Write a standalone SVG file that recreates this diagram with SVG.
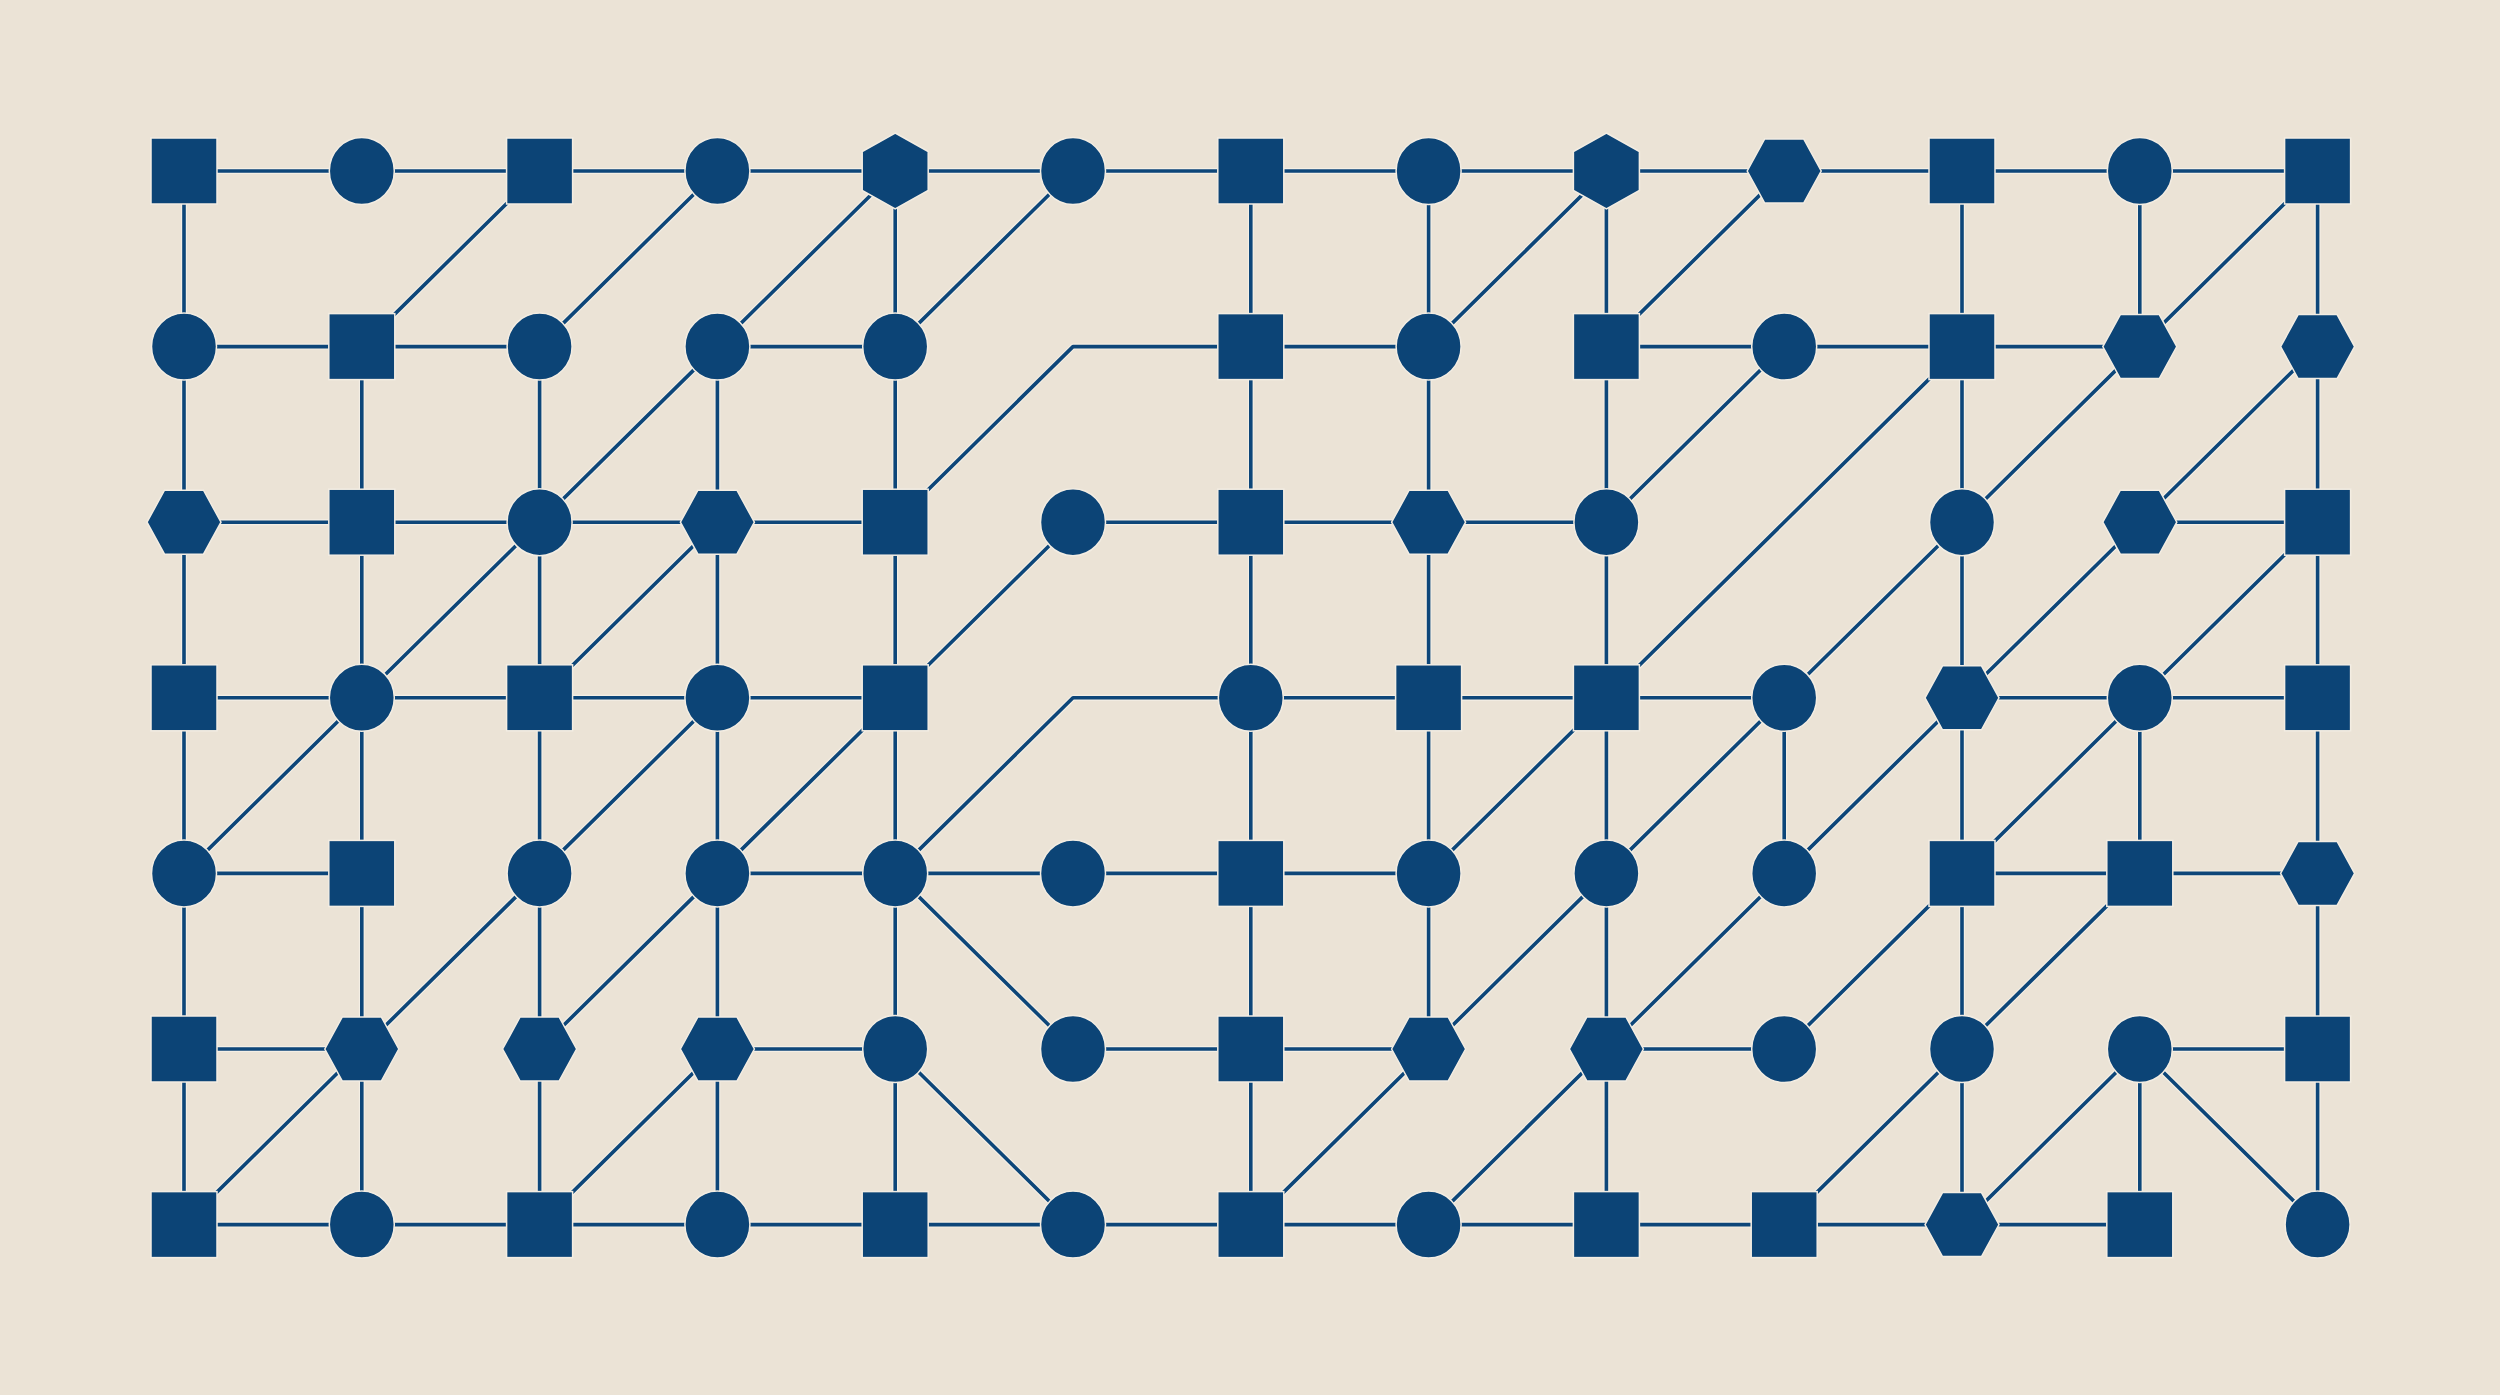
<svg xmlns="http://www.w3.org/2000/svg" width="2500" height="1395" viewBox="0 0 2500 1395">
<style>
.bg{fill:#ebe3d6}
.halo{fill:none;stroke:#f6f1e8;stroke-width:6;stroke-linejoin:round;opacity:0.8}
.ln{fill:none;stroke:#0d4679;stroke-width:3.6;stroke-linejoin:round}
.nd{fill:#0c4476;stroke:#f3ede3;stroke-width:1.5}
</style>
<defs>
<rect id="sq" x="-33" y="-33" width="66" height="66"/>
<ellipse id="ci" cx="0" cy="0" rx="32.5" ry="33.5"/>
<polygon id="hf" points="-37,0 -19.5,-32 19.5,-32 37,0 19.5,32 -19.5,32"/>
<polygon id="hp" points="0,-38 33,-19.5 33,19.5 0,38 -33,19.5 -33,-19.5"/>
<path id="edges" d="
M184 171 H2317.6
M184 346.6 H539.6 M717.4 346.6 H895.2 M1250.8 346.6 H1428.6 M1606.4 346.6 H2139.8
M184 522.2 H895.2 M1073 522.2 H1606.4 M2139.8 522.2 H2317.6
M184 697.8 H895.2 M1250.8 697.8 H1784.2 M1962 697.8 H2317.6
M184 873.4 H361.8 M717.4 873.4 H1428.6 M1962 873.4 H2317.6
M184 1049 H361.8 M717.4 1049 H895.2 M1073 1049 H1428.6 M1606.4 1049 H1784.2 M2139.8 1049 H2317.6
M184 1224.6 H2139.8
M184 171 V1224.6 M361.8 346.6 V1224.6 M539.6 346.6 V1224.6 M717.4 346.6 V1224.6 M895.2 171 V1224.6
M1250.8 171 V1224.6 M1428.6 171 V1049 M1606.4 171 V1224.6 M1784.2 697.8 V873.4 M1962 171 V1224.6
M2139.8 171 V346.6 M2139.8 697.8 V873.4 M2139.8 1049 V1224.6 M2317.6 171 V1224.6
M361.8 346.6 L539.6 171 M539.6 346.6 L717.4 171 M717.4 346.6 L895.2 171 M895.2 346.6 L1073 171
M1428.6 346.6 L1606.4 171 M1606.4 346.6 L1784.2 171 M2139.8 346.6 L2317.6 171
M539.6 522.2 L717.4 346.6 M1606.4 522.2 L1784.2 346.6 M1962 522.2 L2139.8 346.6 M2139.8 522.2 L2317.6 346.6
M361.8 697.8 L539.6 522.2 M539.6 697.8 L717.4 522.2 M895.2 697.8 L1073 522.2
M1784.2 697.8 L1962 522.2 M1962 697.8 L2139.8 522.2 M2139.8 697.8 L2317.6 522.2
M184 873.4 L361.8 697.8 M539.6 873.4 L717.4 697.8 M717.4 873.4 L895.2 697.8
M1428.6 873.4 L1606.4 697.8 M1606.4 873.4 L1784.2 697.8 M1784.2 873.4 L1962 697.8 M1962 873.4 L2139.8 697.8
M361.8 1049 L539.6 873.4 M539.6 1049 L717.4 873.4
M1428.6 1049 L1606.4 873.4 M1606.4 1049 L1784.2 873.4 M1784.2 1049 L1962 873.4 M1962 1049 L2139.8 873.4
M184 1224.6 L361.8 1049 M539.6 1224.6 L717.4 1049
M1250.8 1224.6 L1428.6 1049 M1428.6 1224.6 L1606.4 1049 M1784.2 1224.6 L1962 1049 M1962 1224.6 L2139.8 1049
M1606.4 697.8 L1962 346.6
M895.2 522.2 L1073 346.6 H1250.8
M895.2 873.4 L1073 697.8 H1250.8
M895.2 873.4 L1073 1049 M895.2 1049 L1073 1224.6 M2139.8 1049 L2317.6 1224.6"/>
</defs>
<rect class="bg" x="0" y="0" width="2500" height="1395"/>
<g id="connectors">
<use href="#edges" class="halo"/>
<use href="#edges" class="ln"/>
</g>
<g id="nodes" class="nd">
<g id="n0-0"><use href="#sq" x="184" y="171"/></g>
<g id="n0-1"><use href="#ci" x="361.8" y="171"/></g>
<g id="n0-2"><use href="#sq" x="539.6" y="171"/></g>
<g id="n0-3"><use href="#ci" x="717.4" y="171"/></g>
<g id="n0-4"><use href="#hp" x="895.2" y="171"/></g>
<g id="n0-5"><use href="#ci" x="1073" y="171"/></g>
<g id="n0-6"><use href="#sq" x="1250.8" y="171"/></g>
<g id="n0-7"><use href="#ci" x="1428.6" y="171"/></g>
<g id="n0-8"><use href="#hp" x="1606.4" y="171"/></g>
<g id="n0-9"><use href="#hf" x="1784.2" y="171"/></g>
<g id="n0-10"><use href="#sq" x="1962" y="171"/></g>
<g id="n0-11"><use href="#ci" x="2139.8" y="171"/></g>
<g id="n0-12"><use href="#sq" x="2317.6" y="171"/></g>

<g id="n1-0"><use href="#ci" x="184" y="346.6"/></g>
<g id="n1-1"><use href="#sq" x="361.8" y="346.6"/></g>
<g id="n1-2"><use href="#ci" x="539.6" y="346.6"/></g>
<g id="n1-3"><use href="#ci" x="717.4" y="346.6"/></g>
<g id="n1-4"><use href="#ci" x="895.2" y="346.6"/></g>
<g id="n1-6"><use href="#sq" x="1250.8" y="346.6"/></g>
<g id="n1-7"><use href="#ci" x="1428.6" y="346.6"/></g>
<g id="n1-8"><use href="#sq" x="1606.4" y="346.6"/></g>
<g id="n1-9"><use href="#ci" x="1784.2" y="346.6"/></g>
<g id="n1-10"><use href="#sq" x="1962" y="346.6"/></g>
<g id="n1-11"><use href="#hf" x="2139.8" y="346.6"/></g>
<g id="n1-12"><use href="#hf" x="2317.6" y="346.6"/></g>

<g id="n2-0"><use href="#hf" x="184" y="522.2"/></g>
<g id="n2-1"><use href="#sq" x="361.8" y="522.2"/></g>
<g id="n2-2"><use href="#ci" x="539.6" y="522.2"/></g>
<g id="n2-3"><use href="#hf" x="717.4" y="522.2"/></g>
<g id="n2-4"><use href="#sq" x="895.2" y="522.2"/></g>
<g id="n2-5"><use href="#ci" x="1073" y="522.2"/></g>
<g id="n2-6"><use href="#sq" x="1250.8" y="522.2"/></g>
<g id="n2-7"><use href="#hf" x="1428.6" y="522.2"/></g>
<g id="n2-8"><use href="#ci" x="1606.4" y="522.2"/></g>
<g id="n2-10"><use href="#ci" x="1962" y="522.2"/></g>
<g id="n2-11"><use href="#hf" x="2139.8" y="522.2"/></g>
<g id="n2-12"><use href="#sq" x="2317.6" y="522.2"/></g>

<g id="n3-0"><use href="#sq" x="184" y="697.8"/></g>
<g id="n3-1"><use href="#ci" x="361.8" y="697.8"/></g>
<g id="n3-2"><use href="#sq" x="539.6" y="697.8"/></g>
<g id="n3-3"><use href="#ci" x="717.4" y="697.8"/></g>
<g id="n3-4"><use href="#sq" x="895.2" y="697.8"/></g>
<g id="n3-6"><use href="#ci" x="1250.8" y="697.8"/></g>
<g id="n3-7"><use href="#sq" x="1428.6" y="697.8"/></g>
<g id="n3-8"><use href="#sq" x="1606.4" y="697.8"/></g>
<g id="n3-9"><use href="#ci" x="1784.2" y="697.8"/></g>
<g id="n3-10"><use href="#hf" x="1962" y="697.8"/></g>
<g id="n3-11"><use href="#ci" x="2139.8" y="697.8"/></g>
<g id="n3-12"><use href="#sq" x="2317.6" y="697.8"/></g>

<g id="n4-0"><use href="#ci" x="184" y="873.4"/></g>
<g id="n4-1"><use href="#sq" x="361.8" y="873.4"/></g>
<g id="n4-2"><use href="#ci" x="539.6" y="873.4"/></g>
<g id="n4-3"><use href="#ci" x="717.4" y="873.4"/></g>
<g id="n4-4"><use href="#ci" x="895.2" y="873.4"/></g>
<g id="n4-5"><use href="#ci" x="1073" y="873.4"/></g>
<g id="n4-6"><use href="#sq" x="1250.8" y="873.4"/></g>
<g id="n4-7"><use href="#ci" x="1428.6" y="873.4"/></g>
<g id="n4-8"><use href="#ci" x="1606.4" y="873.4"/></g>
<g id="n4-9"><use href="#ci" x="1784.2" y="873.4"/></g>
<g id="n4-10"><use href="#sq" x="1962" y="873.4"/></g>
<g id="n4-11"><use href="#sq" x="2139.8" y="873.4"/></g>
<g id="n4-12"><use href="#hf" x="2317.6" y="873.4"/></g>

<g id="n5-0"><use href="#sq" x="184" y="1049"/></g>
<g id="n5-1"><use href="#hf" x="361.8" y="1049"/></g>
<g id="n5-2"><use href="#hf" x="539.6" y="1049"/></g>
<g id="n5-3"><use href="#hf" x="717.4" y="1049"/></g>
<g id="n5-4"><use href="#ci" x="895.2" y="1049"/></g>
<g id="n5-5"><use href="#ci" x="1073" y="1049"/></g>
<g id="n5-6"><use href="#sq" x="1250.8" y="1049"/></g>
<g id="n5-7"><use href="#hf" x="1428.6" y="1049"/></g>
<g id="n5-8"><use href="#hf" x="1606.4" y="1049"/></g>
<g id="n5-9"><use href="#ci" x="1784.2" y="1049"/></g>
<g id="n5-10"><use href="#ci" x="1962" y="1049"/></g>
<g id="n5-11"><use href="#ci" x="2139.8" y="1049"/></g>
<g id="n5-12"><use href="#sq" x="2317.6" y="1049"/></g>

<g id="n6-0"><use href="#sq" x="184" y="1224.6"/></g>
<g id="n6-1"><use href="#ci" x="361.8" y="1224.6"/></g>
<g id="n6-2"><use href="#sq" x="539.6" y="1224.6"/></g>
<g id="n6-3"><use href="#ci" x="717.4" y="1224.6"/></g>
<g id="n6-4"><use href="#sq" x="895.2" y="1224.6"/></g>
<g id="n6-5"><use href="#ci" x="1073" y="1224.6"/></g>
<g id="n6-6"><use href="#sq" x="1250.8" y="1224.6"/></g>
<g id="n6-7"><use href="#ci" x="1428.6" y="1224.6"/></g>
<g id="n6-8"><use href="#sq" x="1606.4" y="1224.6"/></g>
<g id="n6-9"><use href="#sq" x="1784.2" y="1224.6"/></g>
<g id="n6-10"><use href="#hf" x="1962" y="1224.6"/></g>
<g id="n6-11"><use href="#sq" x="2139.8" y="1224.6"/></g>
<g id="n6-12"><use href="#ci" x="2317.6" y="1224.6"/></g>
</g>
</svg>
